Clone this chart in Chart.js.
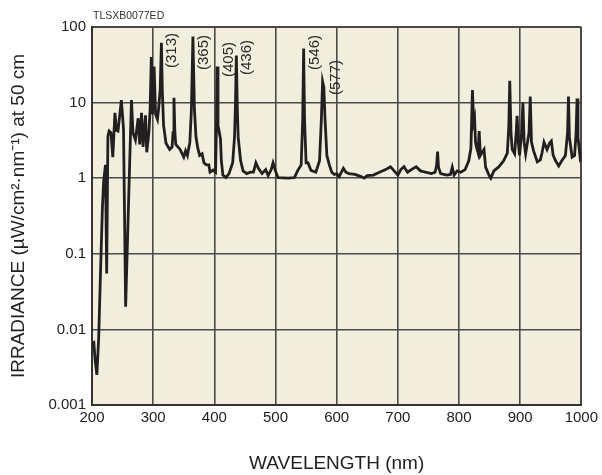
<!DOCTYPE html>
<html>
<head>
<meta charset="utf-8">
<script src="https://cdn.jsdelivr.net/npm/chart.js@4.4.0/dist/chart.umd.min.js"></script>
<style>
  body { margin: 0; background: #fff; }
  #wrap { width: 602px; height: 475px; }
</style>
</head>
<body>
<div id="wrap"><canvas id="lampChart" width="602" height="475"></canvas></div>
<script>
// spectrum: wavelength (nm) / irradiance (uW/cm2/nm at 50 cm)
const wavelength = [
  200, 203, 205, 208, 211, 214, 217, 219, 222, 224, 226, 228, 231, 234, 237.5, 240, 242.5, 248, 251.5, 255,
  264.5, 267, 271, 275.5, 278, 281, 283.5, 287.5, 289.5, 293, 295, 297, 299, 301.5, 304, 307, 309, 311.5, 313.5, 315,
  317, 321, 327, 331, 332.5, 334, 335.5, 337, 344, 350, 353, 356, 360, 362.5, 365, 367.5, 370, 373, 376, 380,
  383, 387, 391, 393, 398, 402, 403.5, 404.5, 406, 408, 410, 411.5, 414, 419, 424, 430, 433, 434.5, 436, 437.5,
  439, 443, 447, 453, 459, 464, 468, 472, 478, 484, 488, 493, 496, 500, 504, 521, 531, 536.5, 542, 544.5,
  546, 547.5, 550, 553, 558, 566, 572, 575, 577, 579, 581, 584, 588, 592, 596, 600, 604, 611, 615, 620,
  630, 640, 645, 650, 660, 670, 680, 688, 695, 700, 705, 710, 716, 722, 730, 737, 745, 755, 761, 763.5,
  765, 766.5, 770, 780, 786, 789, 792, 797, 803, 810, 816, 819.5, 822, 824, 825.5, 827, 828.5, 831, 833, 835,
  838, 841, 843.5, 849, 852, 857, 865, 873, 879, 881.5, 883, 885, 887, 891, 893.5, 895, 897, 899, 902.5, 904.5,
  906.5, 909, 914.5, 916.5, 918.5, 922, 928, 933, 936, 939, 944, 948, 951, 954, 958, 963, 968, 974, 977.5, 979,
  980.5, 985, 989, 991.5, 993, 994.5, 998.5, 1000
];
const irradiance = [
  0.0065, 0.0067, 0.004, 0.0025, 0.008, 0.06, 0.4, 0.9, 1.5, 0.055, 3.6, 4.2, 4.0, 1.9, 7.3, 4.3, 4.2, 10.8, 4.5, 0.02,
  10.8, 4.0, 3.2, 6.2, 2.8, 7.3, 2.6, 6.8, 2.2, 4.0, 8, 40, 7, 30, 7, 6, 8.5, 15, 62, 14,
  5, 2.9, 2.4, 2.6, 4, 11.6, 4, 2.8, 2.4, 1.9, 2.3, 2.0, 3.0, 8, 75, 8, 3.5, 2.5, 2.0, 2.1,
  1.6, 1.5, 1.5, 1.2, 1.28, 1.2, 5, 30, 5, 4.1, 3.3, 1.7, 1.1, 1.02, 1.15, 1.6, 3.5, 9, 42, 9,
  3.5, 1.7, 1.25, 1.15, 1.2, 1.2, 1.6, 1.35, 1.15, 1.3, 1.08, 1.3, 1.6, 1.25, 1.02, 1.0, 1.02, 1.27, 1.5, 6,
  52, 6, 1.6, 1.6, 1.27, 1.2, 1.7, 6, 19, 16, 6, 2.0, 1.5, 1.2, 1.12, 1.15, 1.05, 1.35, 1.2, 1.15,
  1.12, 1.05, 1.0, 1.08, 1.1, 1.2, 1.3, 1.42, 1.22, 1.1, 1.3, 1.42, 1.2, 1.3, 1.42, 1.25, 1.2, 1.15, 1.2, 1.5,
  2.25, 1.4, 1.15, 1.1, 1.12, 1.4, 1.1, 1.25, 1.2, 1.3, 1.7, 2.5, 14.7, 5.5, 6.2, 3, 2.6, 2.2, 4.2, 2,
  2.2, 2.4, 1.4, 1.1, 1.0, 1.25, 1.41, 1.7, 2.15, 5, 19.5, 4, 2.4, 2.1, 4, 6.7, 3, 2.0, 4, 10,
  3, 2.1, 4, 12, 3, 2.3, 1.65, 1.75, 2.2, 3.0, 2.4, 2.9, 3.1, 2, 1.7, 1.45, 1.7, 2.0, 4, 12,
  3.5, 1.9, 2.0, 4, 11.3, 3.5, 1.75, 1.8
];
const xTicks = [200, 300, 400, 500, 600, 700, 800, 900, 1000];
const yTicks = [0.001, 0.01, 0.1, 1, 10, 100];
const peakLines = [313, 365, 405, 436, 546, 577];
const peakLabelTop = [33, 35, 42, 40, 35, 60]; // top end of each rotated label, px

const fontFamily = '"Liberation Sans", Arial, Helvetica, sans-serif';
const points = wavelength.map((w, i) => ({ x: w, y: irradiance[i] }));

const plotBackground = {
  id: 'plotBackground',
  beforeDraw(chart) {
    const { ctx, chartArea: a } = chart;
    ctx.save();
    ctx.fillStyle = '#f1eedd';
    ctx.fillRect(a.left, a.top, a.right - a.left, a.bottom - a.top);
    ctx.restore();
  }
};

const peakLabels = {
  id: 'peakLabels',
  afterDatasetsDraw(chart) {
    const { ctx, chartArea: a, scales } = chart;
    ctx.save();
    ctx.fillStyle = '#2b2b2b';
    ctx.font = '15px ' + fontFamily;
    ctx.textAlign = 'right';
    ctx.textBaseline = 'middle';
    peakLines.forEach((nm, i) => {
      const x = scales.x.getPixelForValue(nm) + (nm === 577 ? 13 : 11);
      ctx.save();
      ctx.translate(x, peakLabelTop[i]);
      ctx.rotate(-Math.PI / 2);
      ctx.fillText('(' + nm + ')', 0, 0);
      ctx.restore();
    });
    // drawing code stamp above the plot
    ctx.font = '10.5px ' + fontFamily;
    ctx.textAlign = 'left';
    ctx.fillStyle = '#333';
    ctx.fillText('TLSXB0077ED', a.left + 1, a.top - 11);
    ctx.restore();
  }
};

const edgeWidth = c => (c.index === 0 || c.index === c.scale.ticks.length - 1) ? 2 : 1.6;

new Chart(document.getElementById('lampChart'), {
  type: 'line',
  data: {
    datasets: [{
      data: points,
      borderColor: '#231f20',
      borderWidth: 2.8,
      pointRadius: 0,
      tension: 0,
      fill: false
    }]
  },
  options: {
    responsive: false,
    animation: false,
    devicePixelRatio: 1,
    layout: { padding: { top: 27, right: 19, bottom: 0, left: 0 } },
    plugins: { legend: { display: false }, tooltip: { enabled: false } },
    scales: {
      x: {
        type: 'linear',
        min: 200,
        max: 1000,
        afterBuildTicks: s => { s.ticks = xTicks.map(v => ({ value: v })); },
        afterFit: s => { s.height = 70; },
        grid: { color: '#4a4a4a', lineWidth: edgeWidth, drawTicks: false },
        border: { color: '#333', width: 2 },
        ticks: {
          padding: 4, color: '#222', maxRotation: 0, autoSkip: false,
          font: { size: 15, family: fontFamily }, callback: v => String(v)
        },
        title: {
          display: true, text: 'WAVELENGTH (nm)', color: '#222',
          font: { size: 19, family: fontFamily }, padding: { top: 0, bottom: 0 }
        }
      },
      y: {
        type: 'logarithmic',
        min: 0.001,
        max: 100,
        afterBuildTicks: s => { s.ticks = yTicks.map(v => ({ value: v })); },
        afterFit: s => { s.width = 92; },
        grid: { color: '#4a4a4a', lineWidth: edgeWidth, drawTicks: false },
        border: { color: '#333', width: 2 },
        ticks: {
          padding: 6, color: '#222', font: { size: 15, family: fontFamily },
          callback: v => String(v)
        },
        title: {
          display: true, text: 'IRRADIANCE (µW/cm²·nm⁻¹) at 50 cm', color: '#222',
          font: { size: 19, family: fontFamily }, padding: { top: 7, bottom: 0 }
        }
      }
    }
  },
  plugins: [plotBackground, peakLabels]
});
</script>
</body>
</html>
